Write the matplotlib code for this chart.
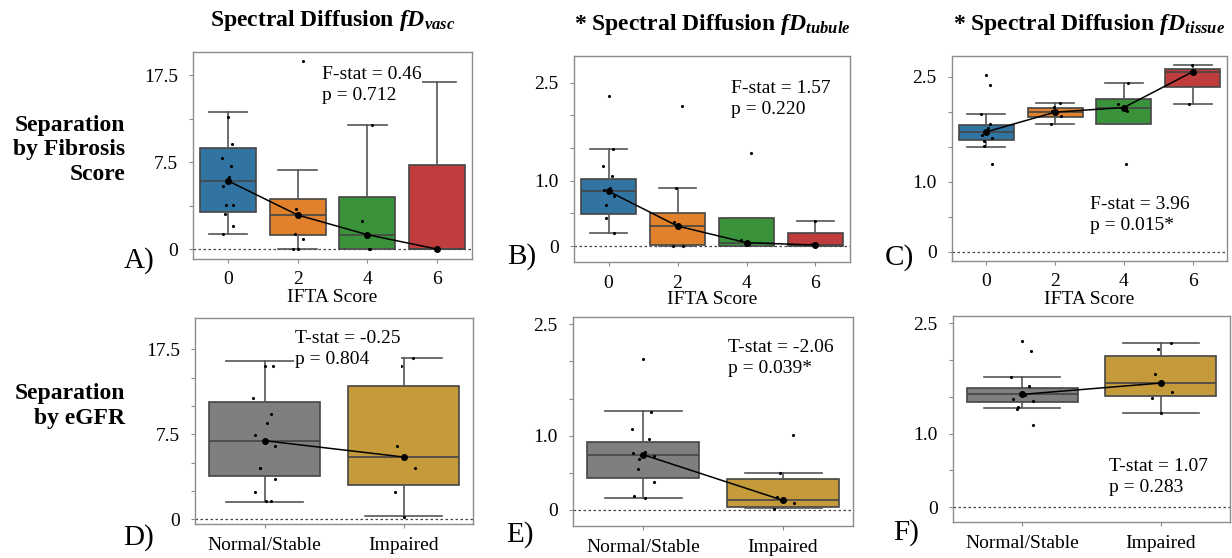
import numpy as np
import matplotlib
matplotlib.use("Agg")
import matplotlib.pyplot as plt

plt.rcParams['font.family'] = ['Liberation Serif', 'DejaVu Serif']
plt.rcParams['mathtext.fontset'] = 'custom'
plt.rcParams['mathtext.rm'] = 'Liberation Serif'
plt.rcParams['mathtext.it'] = 'Liberation Serif:italic'
plt.rcParams['mathtext.bf'] = 'Liberation Serif:bold'
plt.rcParams['mathtext.bfit'] = 'Liberation Serif:bold:italic'

# ---------------- data ----------------
ifta_labels = ['0', '2', '4', '6']
egfr_labels = ['Normal/Stable', 'Impaired']
ifta_colors = ['#3274a1', '#e1812c', '#3a923a', '#c03d3e']
egfr_colors = ['#7f7f7f', '#c49a3a']

titles = ['vasc', 'tubule', 'tissue']
title_star = ['', '* ', '* ']

# Panel A: fD_vasc by IFTA
a_q1 = [3.24, 1.21, 0.05, 0.0]
a_med = [5.91, 2.96, 1.26, 0.02]
a_q3 = [9.18, 4.31, 4.48, 7.27]
a_lo = [1.29, 0.0, 0.05, 0.0]
a_hi = [13.25, 6.84, 11.79, 16.76]
a_pts = [[12.7, 9.57, 7.94, 7.2, 6.23, 5.48, 3.85, 3.85, 3.02, 2.01, 1.29],
         [19.14, 3.45, 1.29, 0.86, 0.0, 0.0],
         [11.79, 2.41, 0.05, 0.05],
         [0.0]]

# Panel B: fD_tubule by IFTA
b_q1 = [0.485, 0.015, 0.0, 0.0]
b_med = [0.838, 0.306, 0.05, 0.015]
b_q3 = [1.02, 0.50, 0.433, 0.204]
b_lo = [0.194, 0.0, 0.0, 0.0]
b_hi = [1.49, 0.884, 0.433, 0.383]
b_pts = [[2.29, 1.49, 1.23, 1.077, 0.884, 0.858, 0.77, 0.628, 0.433, 0.204],
         [2.14, 0.884, 0.372, 0.0, 0.0],
         [1.42, 0.09, 0.026],
         [0.383, 0.026]]

# Panel C: fD_tissue by IFTA
c_q1 = [1.596, 1.93, 1.825, 2.35]
c_med = [1.715, 1.997, 2.063, 2.574]
c_q3 = [1.815, 2.059, 2.188, 2.617]
c_lo = [1.504, 1.82, 1.825, 2.116]
c_hi = [1.977, 2.13, 2.413, 2.665]
c_pts = [[2.527, 2.378, 1.977, 1.834, 1.772, 1.672, 1.629, 1.582, 1.519, 1.256],
         [2.13, 2.073, 2.006, 1.94, 1.82],
         [2.413, 2.11, 2.016, 1.261],
         [2.665, 2.116]]

# Panel D: fD_vasc by eGFR
d_q1 = [3.83, 3.0]
d_med = [6.94, 5.5]
d_q3 = [11.35, 13.2]
d_lo = [1.50, 0.29]
d_hi = [16.15, 16.53]
d_pts = [[15.59, 15.59, 11.75, 9.87, 8.88, 7.45, 6.5, 4.5, 4.5, 3.59, 2.39, 1.62, 1.62],
         [16.53, 15.59, 6.48, 4.5, 2.44, 0.23]]

# Panel E: fD_tubule by eGFR
e_q1 = [0.427, 0.035]
e_med = [0.743, 0.126]
e_q3 = [0.919, 0.41]
e_lo = [0.162, 0.02]
e_hi = [1.332, 0.5]
e_pts = [[2.04, 1.32, 1.095, 0.954, 0.784, 0.76, 0.72, 0.684, 0.554, 0.378, 0.18, 0.162],
         [1.01, 0.5, 0.17, 0.09, 0.013]]

# Panel F: fD_tissue by eGFR
f_q1 = [1.43, 1.51]
f_med = [1.533, 1.687]
f_q3 = [1.625, 2.06]
f_lo = [1.347, 1.284]
f_hi = [1.765, 2.227]
f_pts = [[2.254, 2.122, 1.765, 1.642, 1.529, 1.475, 1.442, 1.36, 1.338, 1.12],
         [2.227, 2.15, 1.81, 1.56, 1.49, 1.284]]

stat_texts = ['F-stat = 0.46\np = 0.712', 'F-stat = 1.57\np = 0.220', 'F-stat = 3.96\np = 0.015*',
              'T-stat = -0.25\np = 0.804', 'T-stat = -2.06\np = 0.039*', 'T-stat = 1.07\np = 0.283']
panel_letters = ['A)', 'B)', 'C)', 'D)', 'E)', 'F)']

# ---------------- layout ----------------
W, H = 1232, 558
fig = plt.figure(figsize=(W / 100, H / 100), dpi=100)


def px_axes(l, t, r, b):
    return fig.add_axes([l / W, 1 - b / H, (r - l) / W, (b - t) / H])


def fwd(v):
    v = np.asarray(v, float)
    return np.where(v <= 7.5, v / 7.5, 1 + (v - 7.5) / 10)


def inv(m):
    m = np.asarray(m, float)
    return np.where(m <= 1, m * 7.5, 7.5 + (m - 1) * 10)


def draw_panel(ax, q1, med, q3, lo, hi, pts, colors, labels, piecewise=False):
    n = len(med)
    pos = np.arange(n)
    if piecewise:
        ax.set_yscale('function', functions=(fwd, inv))
    stats = [dict(med=med[i], q1=q1[i], q3=q3[i], whislo=lo[i], whishi=hi[i], fliers=[])
             for i in range(n)]
    bp = ax.bxp(stats, positions=pos, widths=0.8, patch_artist=True, showfliers=False,
                capwidths=0.55,
                boxprops=dict(edgecolor='#454545', linewidth=1.2),
                medianprops=dict(color='#454545', linewidth=1.2),
                whiskerprops=dict(color='#555555', linewidth=1.2),
                capprops=dict(color='#555555', linewidth=1.2), zorder=2)
    for patch, c in zip(bp['boxes'], colors):
        patch.set_facecolor(c)
    ax.axhline(0, ls=(0, (2, 2)), color='#444444', lw=0.9, zorder=1.5)
    for i, p in enumerate(pts):
        k = np.arange(len(p))
        jit = 0.08 * np.sin(k * 2.3 + i * 1.1)
        ax.scatter(pos[i] + jit, p, s=5, color='black', zorder=4, linewidths=0)
    ax.plot(pos, med, color='black', lw=1.1, marker='o', ms=4, zorder=5)
    ax.set_xlim(-0.5, n - 0.5)
    ax.set_xticks(pos)
    ax.set_xticklabels(labels, fontsize=14)
    for s in ax.spines.values():
        s.set_color('#8c8c8c')
        s.set_linewidth(1.0)
    ax.tick_params(axis='both', which='both', color='#8c8c8c', length=3, width=0.8)
    ax.tick_params(axis='y', labelsize=14, pad=8)
    ax.tick_params(axis='x', pad=6)


rects = [(193, 52, 472, 259), (574, 56, 850, 262), (952, 56, 1227, 261),
         (195, 318, 473, 524), (573, 317, 853, 526), (953, 316, 1230, 522)]
axs = [px_axes(*r) for r in rects]

draw_panel(axs[0], a_q1, a_med, a_q3, a_lo, a_hi, a_pts, ifta_colors, ifta_labels, piecewise=True)
draw_panel(axs[1], b_q1, b_med, b_q3, b_lo, b_hi, b_pts, ifta_colors, ifta_labels)
draw_panel(axs[2], c_q1, c_med, c_q3, c_lo, c_hi, c_pts, ifta_colors, ifta_labels)
draw_panel(axs[3], d_q1, d_med, d_q3, d_lo, d_hi, d_pts, egfr_colors, egfr_labels, piecewise=True)
draw_panel(axs[4], e_q1, e_med, e_q3, e_lo, e_hi, e_pts, egfr_colors, egfr_labels)
draw_panel(axs[5], f_q1, f_med, f_q3, f_lo, f_hi, f_pts, egfr_colors, egfr_labels)

# y axes
axs[0].set_ylim(-0.836, 20.18)
axs[3].set_ylim(-0.42, 21.21)
for ax, minors in [(axs[0], [3.75, 12.5]), (axs[3], [2.5, 5.0, 10.83, 14.17])]:
    ax.set_yticks([0, 7.5, 17.5])
    ax.set_yticklabels(['0', '7.5', '17.5'])
    ax.set_yticks(minors, minor=True)
    ax.yaxis.set_minor_formatter(matplotlib.ticker.NullFormatter())
for ax, lim in [(axs[1], (-0.245, 2.91)), (axs[2], (-0.133, 2.80)),
                (axs[4], (-0.22, 2.60)), (axs[5], (-0.204, 2.60))]:
    ax.set_ylim(*lim)
    ax.set_yticks([0, 1.0, 2.5])
    ax.set_yticklabels(['0', '1.0', '2.5'])
    ax.set_yticks([0.5, 1.5, 2.0], minor=True)
    ax.yaxis.set_minor_formatter(matplotlib.ticker.NullFormatter())

for ax in axs[:3]:
    ax.set_xlabel('IFTA Score', fontsize=14, labelpad=0)

# titles
for ax, t, st in zip(axs[:3], titles, title_star):
    ax.set_title(st + r'Spectral Diffusion $\mathbfit{fD}_{\mathbfit{' + t + '}}$',
                 fontsize=17, fontweight='bold', pad=19)

# row labels
fig.text(125 / W, 1 - 150 / H, 'Separation\nby Fibrosis\nScore', ha='right', va='center',
         fontsize=17, fontweight='bold', linespacing=1.2, multialignment='right')
fig.text(125 / W, 1 - 406 / H, 'Separation\nby eGFR', ha='right', va='center',
         fontsize=17, fontweight='bold', linespacing=1.2, multialignment='right')

# panel letters
letter_pos = [(139, 261), (522, 257), (899, 258), (139, 538), (520, 535), (906, 533)]
for (x, y), s in zip(letter_pos, panel_letters):
    fig.text(x / W, 1 - y / H, s, ha='center', va='center', fontsize=21)

# statistics text
stat_pos = [(322, 85), (731, 99), (1090, 215), (295, 349), (728, 358), (1109, 477)]
for (x, y), s in zip(stat_pos, stat_texts):
    fig.text(x / W, 1 - y / H, s, ha='left', va='center', fontsize=14, linespacing=1.25,
             bbox=dict(facecolor='white', edgecolor='none', pad=0.5), zorder=10)

fig.savefig('out.png', dpi=100)
